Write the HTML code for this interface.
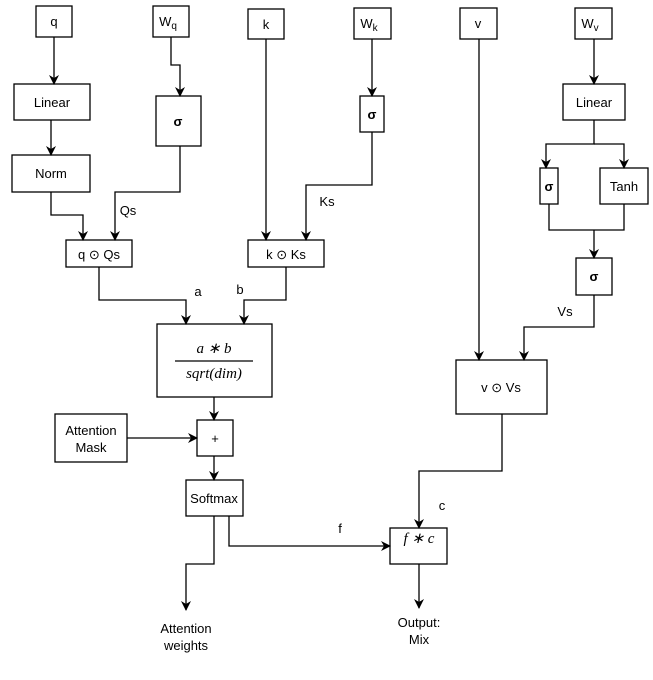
<!DOCTYPE html>
<html><head><meta charset="utf-8"><style>
html,body{margin:0;padding:0;background:#fff;}
svg{display:block;}
text{font-family:"Liberation Sans",sans-serif;font-size:13px;fill:#000;}
.m{font-family:"Liberation Serif",serif;font-style:italic;font-size:15px;}
</style></head><body>
<svg width="653" height="680" viewBox="0 0 653 680" xmlns="http://www.w3.org/2000/svg">
<defs><marker id="a" markerWidth="10" markerHeight="10" refX="9" refY="5" orient="auto" markerUnits="userSpaceOnUse"><path d="M0,0 L10,5 L0,10 L3,5 z" fill="#000"/></marker></defs>
<g fill="#fff" stroke="#000" stroke-width="1.3">
<rect x="36" y="6" width="36" height="31"/>
<rect x="153" y="6" width="36" height="31"/>
<rect x="248" y="9" width="36" height="30"/>
<rect x="354" y="8" width="37" height="31"/>
<rect x="460" y="8" width="37" height="31"/>
<rect x="575" y="8" width="37" height="31"/>
<rect x="14" y="84" width="76" height="36"/>
<rect x="156" y="96" width="45" height="50"/>
<rect x="360" y="96" width="24" height="36"/>
<rect x="563" y="84" width="62" height="36"/>
<rect x="12" y="155" width="78" height="37"/>
<rect x="540" y="168" width="18" height="36"/>
<rect x="600" y="168" width="48" height="36"/>
<rect x="66" y="240" width="66" height="27"/>
<rect x="248" y="240" width="76" height="27"/>
<rect x="576" y="258" width="36" height="37"/>
<rect x="157" y="324" width="115" height="73"/>
<rect x="456" y="360" width="91" height="54"/>
<rect x="55" y="414" width="72" height="48"/>
<rect x="197" y="420" width="36" height="36"/>
<rect x="186" y="480" width="57" height="36"/>
<rect x="390" y="528" width="57" height="36"/>
</g>
<g fill="none" stroke="#000" stroke-width="1.3">
<path d="M54 37 V84" marker-end="url(#a)"/>
<path d="M51 120 V155" marker-end="url(#a)"/>
<path d="M171 37 V65 H180 V96" marker-end="url(#a)"/>
<path d="M180 146 V192 H115 V240" marker-end="url(#a)"/>
<path d="M51 192 V215 H83 V240" marker-end="url(#a)"/>
<path d="M266 39 V240" marker-end="url(#a)"/>
<path d="M372 39 V96" marker-end="url(#a)"/>
<path d="M372 132 V185 H306 V240" marker-end="url(#a)"/>
<path d="M479 39 V360" marker-end="url(#a)"/>
<path d="M594 39 V84" marker-end="url(#a)"/>
<path d="M594 120 V144 H546 V168" marker-end="url(#a)"/>
<path d="M594 144 H624 V168" marker-end="url(#a)"/>
<path d="M549 204 V230 H624 V204"/>
<path d="M594 230 V258" marker-end="url(#a)"/>
<path d="M594 295 V327 H524 V360" marker-end="url(#a)"/>
<path d="M99 267 V300 H186 V324" marker-end="url(#a)"/>
<path d="M286 267 V300 H244 V324" marker-end="url(#a)"/>
<path d="M214 397 V420" marker-end="url(#a)"/>
<path d="M127 438 H197" marker-end="url(#a)"/>
<path d="M214 456 V480" marker-end="url(#a)"/>
<path d="M214 516 V564 H186 V610" marker-end="url(#a)"/>
<path d="M229 516 V546 H390" marker-end="url(#a)"/>
<path d="M502 414 V471 H419 V528" marker-end="url(#a)"/>
<path d="M419 564 V608" marker-end="url(#a)"/>
<path d="M175 361 H253"/>
</g>
<g text-anchor="middle">
<text x="54" y="26">q</text>
<text x="168" y="26">W<tspan font-size="10" dy="3">q</tspan></text>
<text x="266" y="29">k</text>
<text x="369" y="28">W<tspan font-size="10" dy="3">k</tspan></text>
<text x="478" y="28">v</text>
<text x="590" y="28">W<tspan font-size="10" dy="3">v</tspan></text>
<text x="52" y="107">Linear</text>
<text x="178" y="126" font-weight="bold" font-size="14">σ</text>
<text x="372" y="119" font-weight="bold" font-size="14">σ</text>
<text x="594" y="107">Linear</text>
<text x="51" y="178">Norm</text>
<text x="549" y="191" font-weight="bold" font-size="14">σ</text>
<text x="624" y="191">Tanh</text>
<text x="594" y="281" font-weight="bold" font-size="14">σ</text>
<text x="99" y="259">q ⊙ Qs</text>
<text x="286" y="259">k ⊙ Ks</text>
<text x="501" y="392">v ⊙ Vs</text>
<text x="91" y="435">Attention</text>
<text x="91" y="452">Mask</text>
<text x="215" y="443">+</text>
<text x="214" y="503">Softmax</text>
<text x="186" y="633">Attention</text>
<text x="186" y="650">weights</text>
<text x="419" y="627">Output:</text>
<text x="419" y="644">Mix</text>
<text class="m" x="214" y="353">a ∗ b</text>
<text class="m" x="214" y="378">sqrt(dim)</text>
<text class="m" x="419" y="543">f ∗ c</text>
<text x="128" y="215">Qs</text>
<text x="327" y="206">Ks</text>
<text x="565" y="316">Vs</text>
<text x="198" y="296" font-size="12">a</text>
<text x="240" y="294" font-size="12">b</text>
<text x="442" y="510" font-size="12">c</text>
<text x="340" y="533" font-size="12">f</text>
</g>
</svg>
</body></html>
